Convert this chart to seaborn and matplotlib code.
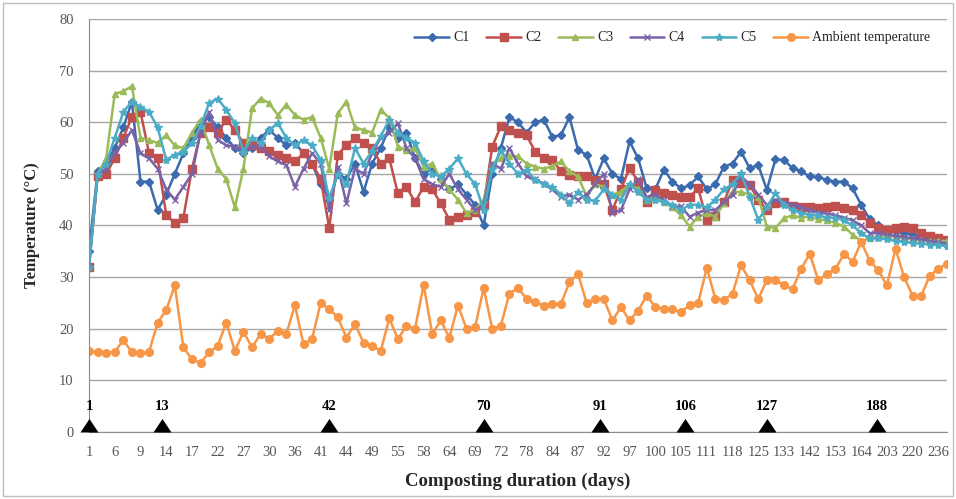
import numpy as np
import pandas as pd
import matplotlib
matplotlib.use("Agg")
import matplotlib.pyplot as plt
import seaborn as sns
from matplotlib.patches import Rectangle

# ---------------- data ----------------
days = [1, 3, 5, 6, 7, 8, 9, 10, 12, 14, 15, 16, 17, 19, 20, 22, 24, 25, 27, 28,
        29, 30, 32, 34, 36, 38, 40, 41, 42, 43, 44, 46, 48, 49, 51, 53, 55, 56, 57, 58,
        60, 62, 64, 66, 67, 69, 70, 71, 72, 74, 76, 78, 80, 82, 84, 85, 86, 87, 89, 90,
        92, 94, 95, 97, 98, 99, 100, 102, 104, 105, 107, 109, 111, 113, 116, 118, 120, 122, 125, 127,
        130, 133, 136, 139, 142, 146, 150, 153, 157, 160, 164, 175, 190, 203, 208, 214, 220, 225, 230, 236,
        242]

c1 = [35, 50.5, 52, 55, 59, 64, 48.5, 48.5, 43, 46, 50, 54, 57, 60, 61, 59, 57, 55, 54, 55,
      57, 58.5, 57, 55.5, 56, 54, 52, 48, 45, 50, 49, 52, 46.5, 52, 55, 59, 57, 58, 53, 50,
      51, 49, 47, 48, 46, 44, 40, 50, 55, 61, 60, 58, 60, 60.5, 57.2, 57.5, 61, 54.6, 53.7, 49,
      53, 50, 49, 56.3, 53, 47.2, 47, 50.8, 48.5, 47.2, 47.8, 49.5, 47, 48, 51.4, 52, 54.3, 51.1, 51.7, 46.9,
      52.8, 52.7, 51.1, 50.5, 49.5, 49.4, 48.8, 48.5, 48.5, 47.2, 44, 41.2, 40, 39.2, 39, 38.5, 38.2, 37.5, 37, 36.6,
      36.3]
c2 = [32, 49.5, 50, 53, 57, 61, 62, 54, 53, 42, 40.5, 41.5, 51, 58, 59, 58, 60.5, 58.5, 56, 55.5,
      55, 54.5, 53.7, 53, 52.4, 54, 52, 49, 39.5, 53.7, 55.6, 56.9, 56, 55, 52, 53, 46.2, 47.5, 44.5, 47.5,
      47, 44.3, 41.1, 41.7, 42, 42.7, 44, 55.3, 59.2, 58.5, 58, 57.5, 54.3, 53, 52.7, 50.5, 49.8, 49.5, 49.5, 48.8,
      48, 43, 47, 51.1, 48.5, 44.5, 46.9, 46.3, 46, 45.6, 45.6, 47.2, 41.1, 41.8, 44.5, 48.8, 48.3, 47.9, 45, 43,
      44.3, 44.5, 43.8, 43.5, 43.5, 43.3, 43.5, 43.7, 43.4, 43, 42, 40.5, 39.5, 39.2, 39.5, 39.8, 39.5, 38.5, 38, 37.5,
      37.2]
c3 = [32, 50, 53, 65.5, 66, 67, 57, 56.5, 56, 57.5, 55.5, 55, 58, 60.5, 55.6, 51, 49, 43.5, 51, 62.7,
      64.6, 63.7, 61.4, 63.4, 61.4, 60.5, 61, 57, 51, 61.7, 64, 59, 58.5, 58, 62.4, 60.8, 55.3, 54.6, 55, 51.4,
      52, 49, 47, 45, 42.4, 43, 45, 52, 53, 53.5, 53.4, 52, 51.4, 51, 51.5, 52.4, 50.5, 49.5, 45.6, 48,
      47.5, 46, 46.5, 48, 47, 45, 45.5, 44.5, 43.5, 42, 39.8, 41.7, 42.4, 41.7, 44.3, 46.6, 46.5, 46, 45.5, 39.8,
      39.5, 41.4, 42, 41.5, 41.7, 41.2, 41, 40.5, 39.8, 38.2, 37, 37.5, 37.8, 38, 37.8, 37.5, 37.3, 37.2, 37, 37,
      37]
c4 = [32, 50, 51, 54, 56, 58.5, 54, 53, 51, 47, 45, 47.5, 50, 58, 62, 56.6, 55.5, 55.3, 54.5, 55.3,
      55.3, 53.4, 52.4, 51.7, 47.5, 51, 54, 52, 43, 51.4, 44.3, 51, 50, 54, 57, 58, 59.8, 55, 53, 49,
      48, 47.5, 50, 47, 45, 43, 44, 52, 51, 55, 52, 49.5, 49, 48, 47, 45.5, 46, 45, 46, 48,
      50, 42.4, 43, 47, 49, 45.5, 46, 45, 43.7, 43.7, 41.7, 42.5, 43, 43, 44.5, 46, 49.5, 48, 46, 44,
      45, 44.5, 44, 43.5, 43, 42.5, 42.3, 42, 41.5, 41, 40, 38.5, 38.5, 38.2, 38, 37.8, 37.5, 37.3, 37, 36.8,
      36.5]
c5 = [32, 50, 52, 57, 62, 64, 63, 62, 59, 52.7, 53.7, 54.3, 55.9, 59.2, 63.7, 64.6, 62.4, 59.8, 54.3, 56.9,
      56, 58.5, 59.8, 57, 55.5, 56.6, 55.5, 52.7, 45.3, 50, 48, 55, 52, 54.5, 57.3, 60.5, 58, 57, 56, 52.5,
      50, 49.5, 51, 53, 50, 48, 43, 51, 54.5, 52, 50, 50.8, 48.8, 48, 47.5, 46, 44.3, 46.5, 45, 44.8,
      47, 46, 45, 48, 46.5, 45, 45, 44.5, 44, 43, 44, 44, 43.5, 45, 47, 48, 50.1, 45.6, 41.1, 43.5,
      46.3, 44, 43, 42.5, 42, 42, 41.5, 41.5, 41, 40, 38.5, 37.5, 37.5, 37.3, 37, 36.8, 36.6, 36.5, 36.3, 36.2,
      36]
ambient = [15.7, 15.5, 15.3, 15.5, 17.8, 15.4, 15.3, 15.5, 21.2, 23.6, 28.4, 16.4, 14.1, 13.4, 15.4, 16.7, 21.2, 15.7, 19.4, 16.4,
           19, 18, 19.6, 19, 24.6, 17, 18, 25, 23.8, 22.2, 18.3, 20.9, 17.3, 16.7, 15.7, 22, 18, 20.6, 20, 28.5,
           19, 21.6, 18.3, 24.5, 20, 20.3, 27.9, 20, 20.6, 26.8, 27.9, 25.8, 25.1, 24.5, 24.8, 24.8, 29, 30.6, 25, 25.8,
           25.8, 21.6, 24.2, 21.6, 23.5, 26.4, 24.2, 23.8, 23.8, 23.2, 24.6, 25, 31.8, 25.8, 25.6, 26.8, 32.3, 29.4, 25.8, 29.4,
           29.5, 28.4, 27.7, 31.6, 34.5, 29.4, 30.6, 31.6, 34.5, 33, 36.8, 33.2, 31.3, 28.4, 35.5, 30, 26.4, 26.4, 30.3, 31.6,
           32.6]

series_names = ["C1", "C2", "C3", "C4", "C5", "Ambient temperature"]
event_days = [1, 13, 42, 70, 91, 106, 127, 188]
tick_every = 3

# ---------------- style ----------------
sns.set_style("white")
plt.rcParams["font.family"] = ["Liberation Serif", "DejaVu Serif"]

colors = ["#3B6BAE", "#C0504D", "#9BBB59", "#7A62A8", "#4BACC6", "#F79646"]
markers = ["D", "s", "^", "x", "*", "o"]
msizes = [4, 5.5, 5, 5, 6, 5.5]

fig = plt.figure(figsize=(9.56, 4.99), dpi=100)
ax = fig.add_axes([89 / 956, 1 - 432 / 499, (947 - 89) / 956, (432 - 19) / 499])

idx = np.arange(len(days))
all_vals = [c1, c2, c3, c4, c5, ambient]
for name, vals, col, mk, ms in zip(series_names, all_vals, colors, markers, msizes):
    sns.lineplot(x=idx, y=vals, ax=ax, color=col, marker=mk, markersize=ms,
                 markeredgecolor=col, markeredgewidth=1.0, linewidth=1.8, label=name)

# event markers (triangles) on the x axis
event_pos = np.interp(event_days, days, idx)
tri = [(-1, 0), (1, 0), (0, 1.5), (-1, 0)]
sns.scatterplot(x=event_pos, y=np.zeros(len(event_pos)), ax=ax, marker=tri, s=380,
                color="black", edgecolor="black", linewidth=0, clip_on=False, zorder=10, legend=False)
for p, d in zip(event_pos, event_days):
    ax.text(p, 4.9, str(d), ha="center", va="center", fontsize=10.5,
            fontweight="bold", color="black", zorder=11)

# axes
ax.set_xlim(0, len(days) - 1)
ax.set_ylim(0, 80)
ax.set_yticks(np.arange(0, 81, 10))
ax.set_xticks(idx[::tick_every])
ax.set_xticklabels([str(d) for d in days[::tick_every]], fontsize=10.5, color="#555555")
ax.tick_params(axis="y", labelsize=10.5, labelcolor="#555555", length=5, width=0.8,
               color="#8c8c8c", direction="out", pad=6)
ax.tick_params(axis="x", length=0, pad=10)
ax.yaxis.grid(True, color="#a6a6a6", linewidth=1.0)
ax.set_axisbelow(True)
for s in ["top", "right"]:
    ax.spines[s].set_visible(False)
ax.spines["left"].set_color("#8c8c8c")
ax.spines["bottom"].set_color("#8c8c8c")

ax.set_ylabel("Temperature (°C)", fontsize=12, fontweight="bold", labelpad=14)
ax.set_xlabel("Composting duration (days)", fontsize=13.5, fontweight="bold", labelpad=10)

leg = ax.legend(loc="upper right", bbox_to_anchor=(0.995, 1.0), ncol=6, frameon=False,
                fontsize=10, handlelength=2.5, columnspacing=1.2, handletextpad=0.3)

fig.patches.append(Rectangle((3 / 956, 3 / 499), 950 / 956, 493 / 499, transform=fig.transFigure,
                             fill=False, edgecolor="#bfbfbf", linewidth=1.0))

fig.savefig("out.png", dpi=100)
